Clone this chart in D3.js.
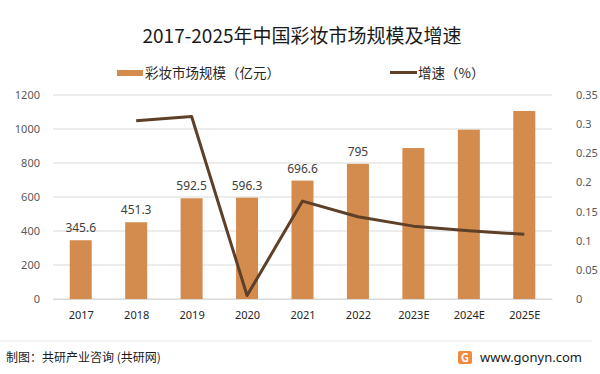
<!DOCTYPE html>
<html>
<head>
<meta charset="utf-8">
<script src="https://cdn.jsdelivr.net/npm/d3@7"></script>
<style>
  body { margin: 0; background: #fff; }
  svg { display: block; font-family: "Noto Sans CJK SC", "Noto Sans", sans-serif; }
</style>
</head>
<body>
<svg id="chart" width="600" height="374"></svg>
<script>
// data
const years = ['2017', '2018', '2019', '2020', '2021', '2022', '2023E', '2024E', '2025E'];
const marketSize = [345.6, 451.3, 592.5, 596.3, 696.6, 795, 888, 996, 1106];
const sizeLabels = ['345.6', '451.3', '592.5', '596.3', '696.6', '795', '', '', ''];
const growth = [null, 0.306, 0.313, 0.006, 0.168, 0.141, 0.125, 0.117, 0.111];
const leftTicks = [0, 200, 400, 600, 800, 1000, 1200];
const rightTicks = [0, 0.05, 0.1, 0.15, 0.2, 0.25, 0.3, 0.35];

const barColor = '#D48B4E';
const lineColor = '#5E4029';

const svg = d3.select('#chart');
const margin = { top: 95, right: 48, bottom: 75, left: 53 };
const width = 600 - margin.left - margin.right;
const height = 374 - margin.top - margin.bottom;

// title
svg.append('text')
  .attr('x', 302).attr('y', 43)
  .attr('text-anchor', 'middle')
  .style('font-size', '19px')
  .style('fill', '#1a1a1a')
  .text('2017-2025年中国彩妆市场规模及增速');

// legend
svg.append('rect').attr('x', 117).attr('y', 70).attr('width', 26).attr('height', 6).style('fill', barColor);
svg.append('text').attr('x', 145).attr('y', 78).style('font-size', '13.5px').style('fill', '#262626').text('彩妆市场规模（亿元）');
svg.append('line').attr('x1', 390).attr('x2', 417).attr('y1', 72.5).attr('y2', 72.5)
  .style('stroke', lineColor).style('stroke-width', 3);
svg.append('text').attr('x', 418).attr('y', 78).style('font-size', '13.5px').style('fill', '#262626').text('增速（%）');

const g = svg.append('g').attr('transform', `translate(${margin.left},${margin.top})`);

const xc = d3.scalePoint().domain(years).range([0, width]).padding(0.5);
const yL = d3.scaleLinear().domain([0, 1200]).range([height, 0]);
const yR = d3.scaleLinear().domain([0, 0.35]).range([height, 0]);

// gridlines
g.selectAll('.grid').data(leftTicks).enter().append('line')
  .attr('x1', 0).attr('x2', width)
  .attr('y1', d => yL(d)).attr('y2', d => yL(d))
  .style('stroke', '#d9d9d9').style('stroke-width', 1);

// left axis
const axL = g.append('g').call(d3.axisLeft(yL).tickValues(leftTicks).tickSize(0).tickPadding(13).tickFormat(d3.format('d')));
axL.select('.domain').remove();
axL.selectAll('text').style('font-size', '11px').style('fill', '#595959').style('font-family', '"Noto Sans", sans-serif');

// right axis
const axR = g.append('g').attr('transform', `translate(${width},0)`)
  .call(d3.axisRight(yR).tickValues(rightTicks).tickSize(0).tickPadding(24).tickFormat(d3.format('~g')));
axR.select('.domain').remove();
axR.selectAll('text').style('font-size', '11px').style('fill', '#595959').style('font-family', '"Noto Sans", sans-serif');

// bottom axis
const axB = g.append('g').attr('transform', `translate(0,${height})`)
  .call(d3.axisBottom(xc).tickSize(0).tickPadding(12));
axB.select('.domain').style('stroke', '#d9d9d9');
axB.selectAll('text').style('font-size', '11px').style('fill', '#262626').style('font-family', '"Noto Sans", sans-serif');

// bars
g.selectAll('.bar').data(years).enter().append('rect')
  .attr('x', d => xc(d) - 11)
  .attr('width', 22)
  .attr('y', (d, i) => yL(marketSize[i]))
  .attr('height', (d, i) => height - yL(marketSize[i]))
  .style('fill', barColor);

// bar labels
g.selectAll('.lbl').data(years).enter().append('text')
  .attr('x', d => xc(d))
  .attr('y', (d, i) => yL(marketSize[i]) - 8)
  .attr('text-anchor', 'middle')
  .style('font-size', '12px')
  .style('fill', '#404040')
  .style('font-family', '"Noto Sans", sans-serif')
  .text((d, i) => sizeLabels[i]);

// growth line
const line = d3.line()
  .defined(d => d[1] !== null)
  .x(d => xc(d[0]))
  .y(d => yR(d[1]));
g.append('path')
  .datum(years.map((y, i) => [y, growth[i]]))
  .attr('d', line)
  .style('fill', 'none')
  .style('stroke', lineColor)
  .style('stroke-width', 3)
  .style('stroke-linejoin', 'round');

// footer
svg.append('line').attr('x1', 0).attr('x2', 592).attr('y1', 341).attr('y2', 341)
  .style('stroke', '#e6e6e6').style('stroke-width', 1);
svg.append('text').attr('x', 6).attr('y', 362)
  .style('font-size', '12px').style('fill', '#1a1a1a')
  .text('制图：共研产业咨询 (共研网)');
svg.append('rect').attr('x', 458).attr('y', 351).attr('width', 14).attr('height', 13).attr('rx', 2)
  .style('fill', '#F08A3C');
svg.append('text').attr('x', 465).attr('y', 361.5).attr('text-anchor', 'middle')
  .style('font-size', '11px').style('font-weight', 'bold').style('fill', '#fff').text('G');
svg.append('text').attr('x', 480).attr('y', 362)
  .style('font-size', '13px').style('fill', '#1a1a1a').style('font-family', '"Noto Sans", sans-serif')
  .text('www.gonyn.com');
</script>
</body>
</html>
